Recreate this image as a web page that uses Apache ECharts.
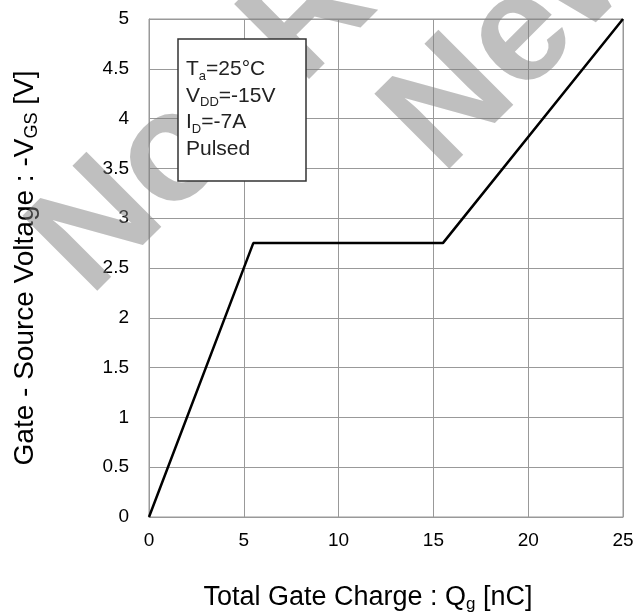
<!DOCTYPE html>
<html>
<head>
<meta charset="utf-8">
<script src="https://cdn.jsdelivr.net/npm/echarts@6/dist/echarts.min.js"></script>
<style>
  html, body { margin: 0; padding: 0; background: #fff; }
  #chart { width: 635px; height: 614px; }
</style>
</head>
<body>
<div id="chart"></div>
<script>
// gate charge curve, Qg [nC] vs -VGS [V]
var qg = [0, 5.5, 15.5, 25];
var vgs = [0, 2.75, 2.75, 5];
var xTicks = [0, 5, 10, 15, 20, 25];
var yTicks = [0, 0.5, 1, 1.5, 2, 2.5, 3, 3.5, 4, 4.5, 5];
var condLines = ["{m|T}{s|a}{m|=25°C}", "{m|V}{s|DD}{m|=-15V}", "{m|I}{s|D}{m|=-7A}", "{m|Pulsed}"];

var font = "'Liberation Sans', Arial, sans-serif";
var chart = echarts.init(document.getElementById("chart"));

var points = qg.map(function (q, i) {
  return [q, vgs[i]];
});

// big diagonal grey stamp
var stampRot = (45 * Math.PI) / 180;
var stampFont = "bold 154px " + font;
var stampFill = "rgba(128,128,128,0.5)";

var option = {
  animation: false,
  backgroundColor: "#fff",
  grid: {
    left: 149,
    right: 12,
    top: 19,
    bottom: 97,
    outerBoundsMode: "none",
    show: true,
    borderColor: "#999",
    borderWidth: 1,
  },
  xAxis: {
    type: "value",
    min: xTicks[0],
    max: xTicks[xTicks.length - 1],
    interval: xTicks[1] - xTicks[0],
    name: "{a|Total Gate Charge : Q}{s|g}{a| [nC]}",
    nameLocation: "middle",
    nameGap: 65,
    nameTextStyle: {
      padding: [0, 36, 0, 0],
      rich: {
        a: { fontSize: 27, lineHeight: 31, color: "#000", fontFamily: font },
        s: { fontSize: 17, lineHeight: 18, color: "#000", fontFamily: font, verticalAlign: "bottom" },
      },
    },
    axisLine: { lineStyle: { color: "#999", width: 1 } },
    axisTick: { show: false },
    axisLabel: { fontSize: 19, color: "#000", margin: 14, fontFamily: font },
    splitLine: { lineStyle: { color: "#999", width: 1 } },
  },
  yAxis: {
    type: "value",
    min: yTicks[0],
    max: yTicks[yTicks.length - 1],
    interval: yTicks[1] - yTicks[0],
    name: "{a|Gate - Source Voltage : -V}{s|GS}{a| [V]}",
    nameLocation: "middle",
    nameRotate: 90,
    nameGap: 108,
    nameTextStyle: {
      rich: {
        a: { fontSize: 28, lineHeight: 32, color: "#000", fontFamily: font },
        s: { fontSize: 18, lineHeight: 19, color: "#000", fontFamily: font, verticalAlign: "bottom" },
      },
    },
    axisLine: { show: true, lineStyle: { color: "#999", width: 1 } },
    axisTick: { show: false },
    axisLabel: { fontSize: 19, color: "#000", margin: 20, fontFamily: font },
    splitLine: { lineStyle: { color: "#999", width: 1 } },
  },
  graphic: [
    {
      type: "text",
      z: 20,
      x: 60,
      y: 268,
      rotation: stampRot,
      style: { text: "Not Recommended", font: stampFont, fill: stampFill, verticalAlign: "middle" },
    },
    {
      type: "text",
      z: 20,
      x: 412,
      y: 146,
      rotation: stampRot,
      style: { text: "New Design", font: stampFont, fill: stampFill, verticalAlign: "middle" },
    },
    {
      type: "rect",
      z: 30,
      shape: { x: 178, y: 39, width: 128, height: 142 },
      style: { fill: "#fff", stroke: "#333", lineWidth: 1.5 },
    },
    {
      type: "text",
      z: 31,
      x: 186,
      y: 56,
      style: {
        text: condLines.join("\n"),
        rich: {
          m: { fontSize: 21, lineHeight: 26.5, fill: "#222", fontFamily: font },
          s: { fontSize: 13, lineHeight: 15, fill: "#222", fontFamily: font, verticalAlign: "bottom" },
        },
      },
    },
  ],
  series: [
    {
      type: "line",
      data: points,
      showSymbol: false,
      z: 5,
      lineStyle: { color: "#000", width: 2.5 },
    },
  ],
};

chart.setOption(option);
</script>
</body>
</html>
